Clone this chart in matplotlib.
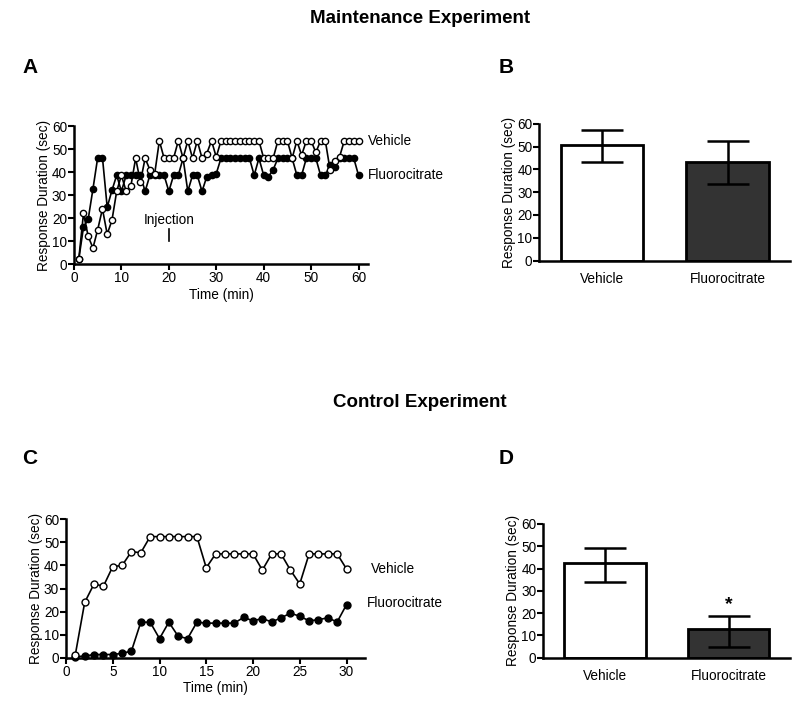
import matplotlib.pyplot as plt
import numpy as np

plt.rcParams['font.family'] = ['Liberation Sans', 'DejaVu Sans']

# panel A: maintenance experiment, 1 point per minute
time_a = list(range(1, 61))
veh_a = [2, 22, 12, 7, 15, 24, 13, 19, 31.6, 38.6,
         31.6, 34, 46, 35.7, 46, 41, 39, 53.6, 46, 46,
         46, 53.6, 46, 53.6, 46, 53.6, 46, 48, 53.6, 46.5,
         53.6, 53.6, 53.6, 53.6, 53.6, 53.6, 53.6, 53.6, 53.6, 46,
         46, 46, 53.6, 53.6, 53.6, 46, 53.6, 47.3, 53.6, 53.6,
         48.5, 53.6, 53.6, 41, 45, 46.6, 53.6, 53.6, 53.6, 53.6]
flu_a = [2, 16, 19.6, 32.7, 46.3, 46.3, 24.7, 32, 38.6, 31.6,
         38.6, 38.6, 38.6, 38.6, 31.6, 38.6, 38.6, 38.6, 38.6, 31.6,
         38.6, 38.6, 46, 31.6, 38.6, 38.6, 31.6, 38, 38.6, 39.3,
         46, 46, 46, 46, 46, 46, 46, 38.6, 46, 38.6,
         38, 41, 46, 46, 46, 46, 38.6, 38.6, 46, 46,
         46, 38.6, 38.6, 43, 42, 46, 46, 46, 46, 38.6]

# panel C: control experiment
time_c = list(range(1, 31))
veh_c = [1.4, 24, 32, 31, 39.5, 40, 46, 45.5, 52.5, 52.5,
         52.5, 52.5, 52.5, 52.5, 39, 45, 45, 45, 45, 45,
         38, 45, 45, 38, 32, 45, 45, 45, 45, 38.5]
flu_c = [0.5, 0.7, 1.4, 1.4, 1.4, 1.9, 2.9, 15.4, 15.4, 8.3,
         15.4, 9.3, 8.3, 15.4, 15, 15, 15, 15, 17.5, 16,
         17, 15.5, 17.3, 19.3, 18, 16, 16.5, 17.3, 15.5, 23]

groups = ['Vehicle', 'Fluorocitrate']
mean_b = [50.9, 43.4]
err_b_lo = [7.6, 10.0]
err_b_hi = [6.3, 8.9]
mean_d = [42.4, 12.7]
err_d_lo = [8.3, 7.8]
err_d_hi = [7.0, 5.9]

fig = plt.figure(figsize=(8, 7.08), dpi=100)

fs = 9.8


def style(ax):
    for s in ['top', 'right']:
        ax.spines[s].set_visible(False)
    for s in ['left', 'bottom']:
        ax.spines[s].set_linewidth(1.8)
    ax.tick_params(width=1.5, length=4, labelsize=fs, pad=1)
    ax.set_ylabel('Response Duration (sec)', fontsize=fs, labelpad=1)


def line_panel(rect, t, veh, flu, xlim, xticks, ms):
    ax = fig.add_axes(rect)
    ax.plot(t, flu, '-o', color='black', lw=1.2, ms=ms, mfc='black', mec='black', clip_on=False, zorder=3)
    ax.plot(t, veh, '-o', color='black', lw=1.2, ms=ms, mfc='white', mec='black', mew=1, clip_on=False, zorder=4)
    ax.set_xlim(*xlim)
    ax.set_ylim(0, 60)
    ax.set_xticks(xticks)
    ax.set_yticks(range(0, 61, 10))
    ax.set_xlabel('Time (min)', fontsize=fs, labelpad=2)
    style(ax)
    return ax


def bar_panel(rect, means, lo, hi):
    ax = fig.add_axes(rect)
    x = np.arange(len(groups))
    ax.bar(x, means, width=0.66, color=['white', '#333333'], edgecolor='black', linewidth=2, zorder=2)
    ax.errorbar(x, means, yerr=[lo, hi], fmt='none', ecolor='black', elinewidth=1.8,
                capsize=15, capthick=1.8, zorder=3)
    ax.set_xlim(-0.5, 1.5)
    ax.set_ylim(0, 60)
    ax.set_yticks(range(0, 61, 10))
    ax.set_xticks(x)
    ax.set_xticklabels(groups)
    style(ax)
    ax.tick_params(axis='x', length=0, pad=8)
    return ax


ax_a = line_panel([0.0925, 0.627, 0.3675, 0.195], time_a, veh_a, flu_a, (0, 62), range(0, 61, 10), 4.5)
ax_a.text(62, veh_a[-1], 'Vehicle', fontsize=fs, va='center')
ax_a.text(62, flu_a[-1], 'Fluorocitrate', fontsize=fs, va='center')
ax_a.text(20, 19.2, 'Injection', fontsize=fs, ha='center', va='center')
ax_a.plot([20, 20], [10.2, 15.4], color='black', lw=1.2)

ax_b = bar_panel([0.674, 0.632, 0.314, 0.193], mean_b, err_b_lo, err_b_hi)

ax_c = line_panel([0.0825, 0.071, 0.374, 0.1955], time_c, veh_c, flu_c, (0, 32), range(0, 31, 5), 5)
ax_c.text(32.6, 38.5, 'Vehicle', fontsize=fs, va='center')
ax_c.text(32.2, 23.8, 'Fluorocitrate', fontsize=fs, va='center')

ax_d = bar_panel([0.679, 0.071, 0.309, 0.189], mean_d, err_d_lo, err_d_hi)
ax_d.text(1, 24, '*', fontsize=14, ha='center', va='center', fontweight='bold')

fig.text(0.525, 0.974, 'Maintenance Experiment', fontsize=13.5, fontweight='bold', ha='center', va='center')
fig.text(0.525, 0.431, 'Control Experiment', fontsize=13.5, fontweight='bold', ha='center', va='center')
for lab, x, y in [('A', 0.028, 0.904), ('B', 0.623, 0.904), ('C', 0.028, 0.353), ('D', 0.623, 0.353)]:
    fig.text(x, y, lab, fontsize=15, fontweight='bold', ha='left', va='center')

fig.savefig('out.png', dpi=100)
